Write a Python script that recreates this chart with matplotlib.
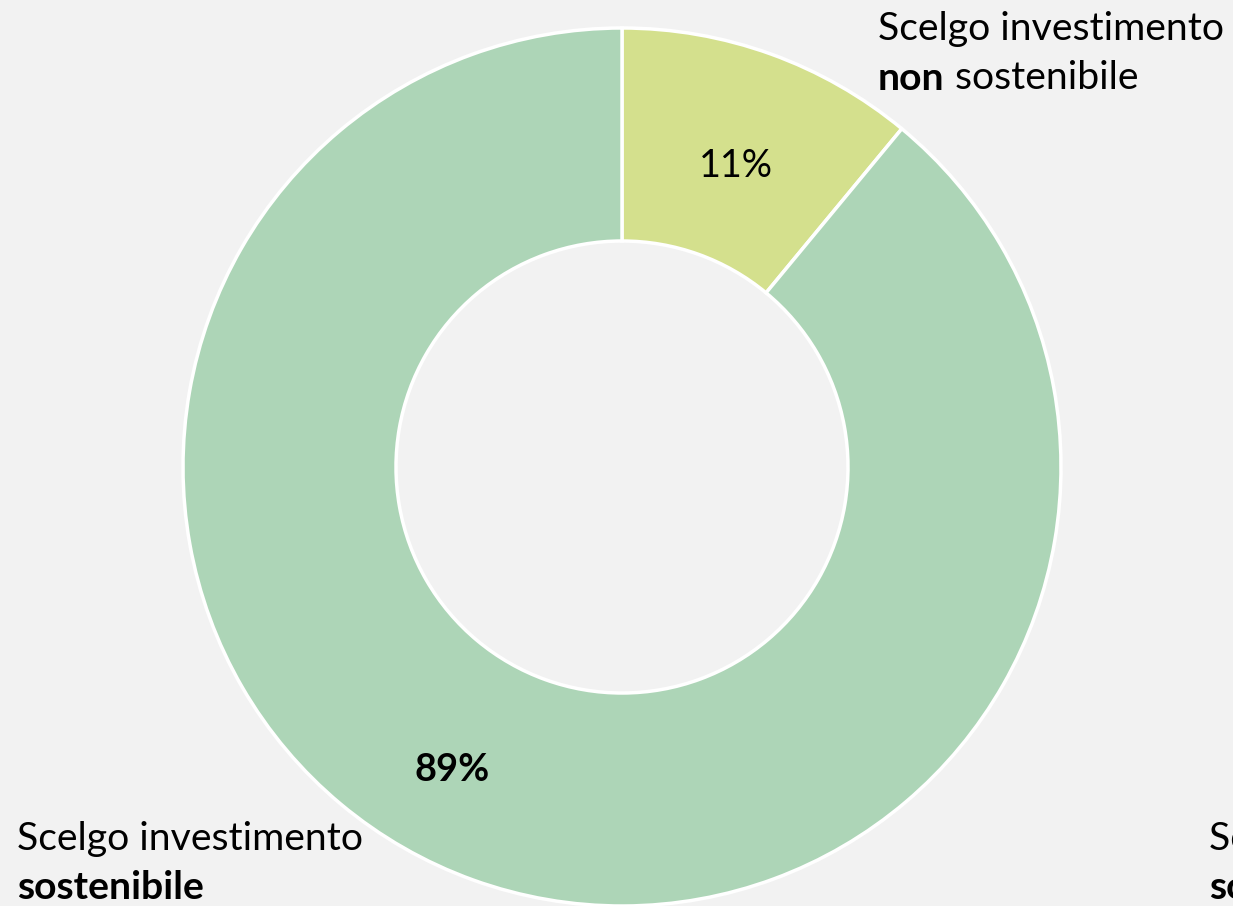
import matplotlib.pyplot as plt

# data
labels = ['Scelgo investimento non sostenibile', 'Scelgo investimento sostenibile']
values = [11, 89]
pct_labels = ['11%', '89%']
colors = ['#D4E08D', '#ADD5B7']

plt.rcParams['font.family'] = ['Lato', 'DejaVu Sans']

fig = plt.figure(figsize=(12.33, 9.06), dpi=100, facecolor='#F2F2F2')
ax = fig.add_axes([0, 0, 1, 1])
ax.set_facecolor('#F2F2F2')

# donut
ax.pie(values, colors=colors, startangle=90, counterclock=False,
       center=(622, 439), radius=439, frame=True,
       wedgeprops=dict(width=213, edgecolor='white', linewidth=2.5))
ax.set_xlim(0, 1233)
ax.set_ylim(0, 906)
ax.set_aspect('equal')
ax.axis('off')

renderer = fig.canvas.get_renderer()


def fit_size(txt, width_px, weight='normal'):
    # scale the font size so the text is about width_px wide
    t = ax.text(0, 0, txt, fontsize=20, fontweight=weight)
    w = t.get_window_extent(renderer).width
    t.remove()
    return 20 * width_px / w


# percentages
ax.text(736, 740, pct_labels[0], fontsize=fit_size(pct_labels[0], 74),
        ha='center', va='center')
ax.text(452, 136, pct_labels[1], fontsize=fit_size(pct_labels[1], 75, 'bold'),
        ha='center', va='center', fontweight='bold')

# category labels
fs = fit_size('Scelgo investimento', 346)
ax.text(878, 866, 'Scelgo investimento', fontsize=fs, ha='left', va='baseline')
t = ax.text(878, 816, 'non', fontsize=fs, ha='left', va='baseline', fontweight='bold')
ax.annotate(' sostenibile', xy=(1, 0), xycoords=t, fontsize=fs, ha='left', va='bottom')

for x0 in (17, 1209):
    ax.text(x0, 56, 'Scelgo investimento', fontsize=fs, ha='left', va='baseline')
    ax.text(x0, 7, 'sostenibile', fontsize=fs, ha='left', va='baseline', fontweight='bold')

fig.savefig('out.png', dpi=100, facecolor=fig.get_facecolor())
